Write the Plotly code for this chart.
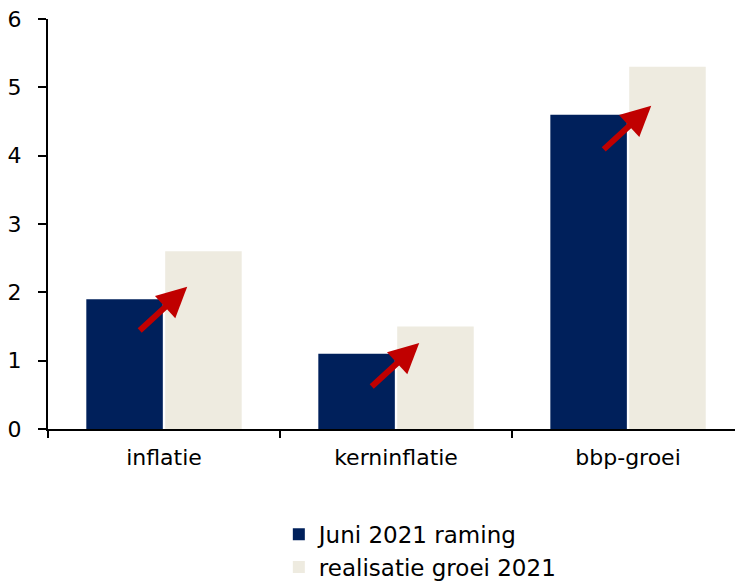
import plotly.graph_objects as go

# Categories and series
categories = ["inflatie", "kerninflatie", "bbp-groei"]
juni_2021_raming = [1.9, 1.1, 4.6]
realisatie_2021 = [2.6, 1.5, 5.3]
series_names = ["Juni 2021 raming", "realisatie groei 2021"]
y_ticks = [0, 1, 2, 3, 4, 5, 6]

NAVY = "#00205B"
BEIGE = "#EEEBE0"
RED = "#C00000"
FONT = "DejaVu Sans"

fig = go.Figure()
fig.add_trace(go.Bar(x=categories, y=juni_2021_raming, name=series_names[0],
                     marker=dict(color=NAVY, line=dict(width=0)),
                     legendgroup="a"))
fig.add_trace(go.Bar(x=categories, y=realisatie_2021, name=series_names[1],
                     marker=dict(color=BEIGE, line=dict(width=0)),
                     legendgroup="b"))

# Red arrows pointing from the forecast bar up towards the realised bar;
# the tip sits a little below the top of the realised bar
tip_drop = [0.52, 0.24, 0.57]
for i, cat in enumerate(categories):
    fig.add_annotation(
        x=i + 0.1, y=realisatie_2021[i] - tip_drop[i],
        xref="x", yref="y",
        ax=-49, ay=45, axref="pixel", ayref="pixel",
        showarrow=True, arrowhead=2, arrowsize=1.0, arrowwidth=6,
        arrowcolor=RED, standoff=0, text="",
    )

fig.update_layout(
    width=735, height=582,
    margin=dict(l=48, r=0, t=19, b=153, autoexpand=False),
    paper_bgcolor="white", plot_bgcolor="white",
    font=dict(family=FONT, size=22, color="#000000"),
    barmode="group", bargap=0.32, bargroupgap=0.03,
    showlegend=True,
    legend=dict(orientation="v", x=0.336, xanchor="left",
                yref="container", y=0.119, yanchor="top",
                traceorder="grouped", tracegroupgap=0,
                font=dict(family=FONT, size=23, color="#000000"),
                itemwidth=30, bgcolor="rgba(0,0,0,0)"),
    xaxis=dict(
        range=[-0.5, 2.461], showline=True, linecolor="black", linewidth=2,
        ticks="outside", tickson="boundaries", ticklen=7, tickwidth=2, tickcolor="black",
        showgrid=False, zeroline=False, ticklabelstandoff=8,
    ),
    yaxis=dict(
        range=[0, 6], tickvals=y_ticks, showline=True, linecolor="black", linewidth=2,
        ticks="outside", ticklen=8, tickwidth=2, tickcolor="black",
        showgrid=False, zeroline=False, ticklabelstandoff=12,
    ),
)

fig.write_html("out.html")
